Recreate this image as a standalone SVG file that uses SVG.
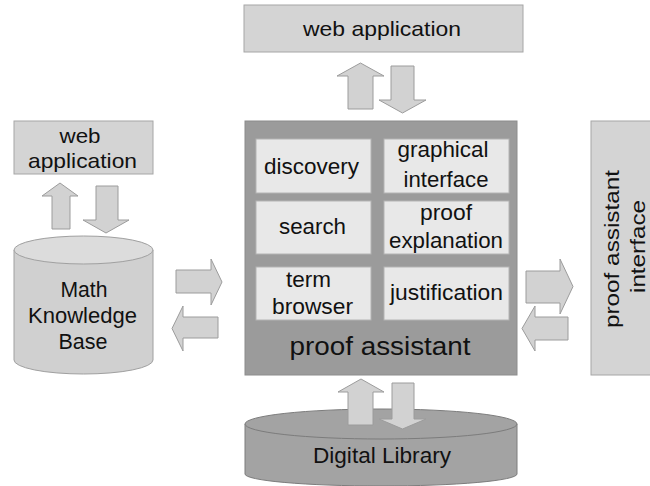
<svg xmlns="http://www.w3.org/2000/svg" width="650" height="486" viewBox="0 0 650 486">
<style>
text{font-family:"Liberation Sans",Arial,sans-serif;fill:#111;text-anchor:middle}
.lbox{fill:#d4d4d4;stroke:#a6a6a6;stroke-width:1}
.ibox{fill:#e8e8e8;stroke:#b4b4b4;stroke-width:1}
.arr{fill:#d2d2d2;stroke:#9c9c9c;stroke-width:1}
.t20{font-size:21px}
.t22{font-size:22px}
</style>
<rect width="650" height="486" fill="#ffffff"/>
<g id="web-top">
<rect class="lbox" x="244" y="5" width="279" height="47"/>
<text class="t20" x="382" y="36" textLength="158" lengthAdjust="spacingAndGlyphs">web application</text>
</g>
<g id="web-left">
<rect class="lbox" x="14" y="121" width="139" height="53"/>
<text class="t20" x="80" y="143" textLength="41" lengthAdjust="spacingAndGlyphs">web</text>
<text class="t20" x="82.5" y="168" textLength="109" lengthAdjust="spacingAndGlyphs">application</text>
</g>
<g id="math-kb">
<path d="M14,250 L14,360 A69.5,14 0 0 0 153,360 L153,250 Z" fill="#d0d0d0" stroke="#a0a0a0"/>
<ellipse cx="83.5" cy="250" rx="69.5" ry="14" fill="#dcdcdc" stroke="#a0a0a0"/>
<text class="t22" x="84" y="297" textLength="47" lengthAdjust="spacingAndGlyphs">Math</text>
<text class="t22" x="82.5" y="323" textLength="109" lengthAdjust="spacingAndGlyphs">Knowledge</text>
<text class="t22" x="83" y="349" textLength="49" lengthAdjust="spacingAndGlyphs">Base</text>
</g>
<g id="proof-assistant">
<rect x="245" y="121" width="272" height="254" fill="#9b9b9b" stroke="#8c8c8c"/>
<text x="380" y="355" font-size="25" textLength="181" lengthAdjust="spacingAndGlyphs">proof assistant</text>
</g>
<g id="discovery">
<rect class="ibox" x="256" y="139" width="115" height="54"/>
<text class="t22" x="311.5" y="174" textLength="95" lengthAdjust="spacingAndGlyphs">discovery</text>
</g>
<g id="graphical-interface">
<rect class="ibox" x="384" y="139" width="125" height="54"/>
<text class="t22" x="443" y="157" textLength="91" lengthAdjust="spacingAndGlyphs">graphical</text>
<text class="t22" x="446" y="187" textLength="85" lengthAdjust="spacingAndGlyphs">interface</text>
</g>
<g id="search">
<rect class="ibox" x="256" y="201" width="115" height="53"/>
<text class="t22" x="312.5" y="234" textLength="67" lengthAdjust="spacingAndGlyphs">search</text>
</g>
<g id="proof-explanation">
<rect class="ibox" x="384" y="201" width="125" height="53"/>
<text class="t22" x="446" y="220" textLength="52" lengthAdjust="spacingAndGlyphs">proof</text>
<text class="t22" x="446" y="248" textLength="114" lengthAdjust="spacingAndGlyphs">explanation</text>
</g>
<g id="term-browser">
<rect class="ibox" x="256" y="267" width="115" height="53"/>
<text class="t22" x="308.5" y="287" textLength="45" lengthAdjust="spacingAndGlyphs">term</text>
<text class="t22" x="312.5" y="314" textLength="81" lengthAdjust="spacingAndGlyphs">browser</text>
</g>
<g id="justification">
<rect class="ibox" x="384" y="267" width="125" height="53"/>
<text class="t22" x="446.5" y="300" textLength="113" lengthAdjust="spacingAndGlyphs">justification</text>
</g>
<g id="proof-assistant-interface">
<rect class="lbox" x="591" y="121" width="70" height="254"/>
<text class="t20" transform="translate(619,249) rotate(-90)" x="0" y="0" textLength="158" lengthAdjust="spacingAndGlyphs">proof assistant</text>
<text class="t20" transform="translate(645,246.5) rotate(-90)" x="0" y="0" textLength="93" lengthAdjust="spacingAndGlyphs">interface</text>
</g>
<g id="digital-library">
<path d="M245,424 L245,474 A136,12 0 0 0 517,474 L517,424 Z" fill="#a3a3a3" stroke="#7c7c7c"/>
<ellipse cx="381" cy="424" rx="136" ry="15" fill="#a3a3a3" stroke="#7c7c7c"/>
<text class="t22" x="382" y="463" textLength="138" lengthAdjust="spacingAndGlyphs">Digital Library</text>
</g>
<g id="connectors">
<polygon class="arr" points="337,76 360.5,63 384,76 373,76 373,109 348,109 348,76"/>
<polygon class="arr" points="391,66 414,66 414,100 426,100 402.5,113 379,100 391,100"/>
<polygon class="arr" points="42,196 60,183 78,196 70,196 70,229 52,229 52,196"/>
<polygon class="arr" points="96,186 118,186 118,220 129,220 106,233 83,220 96,220"/>
<polygon class="arr" points="176,270 211,270 211,259 222,282 211,305 211,293 176,293"/>
<polygon class="arr" points="218,317 183,317 183,306 172,328.5 183,351 183,338 218,338"/>
<polygon class="arr" points="526,271 560,271 560,259 573,286.5 560,314 560,303 526,303"/>
<polygon class="arr" points="568,317 535,317 535,306 522,328.5 535,351 535,340 568,340"/>
<polygon class="arr" points="338,392 361,379 384,392 373,392 373,425 348,425 348,392"/>
<polygon class="arr" points="392,383 414,383 414,419 426,419 402.5,429 379,419 392,419"/>
</g>
</svg>
